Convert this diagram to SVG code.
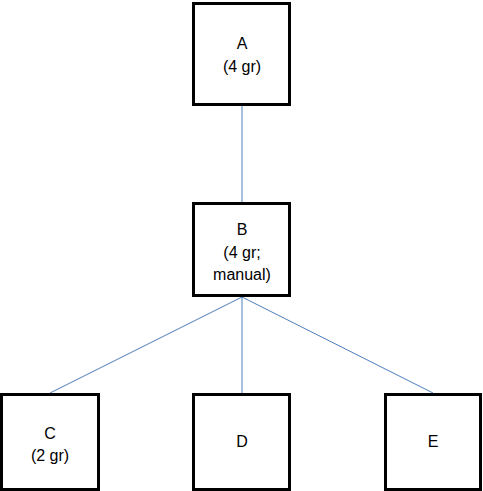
<svg xmlns="http://www.w3.org/2000/svg" width="483" height="491" viewBox="0 0 483 491">
<style>
.box{fill:#fff;stroke:#000;stroke-width:3}
.lbl{font-family:"Liberation Sans",Arial,sans-serif;font-size:16px;fill:#000;text-anchor:middle}
.conn{stroke:#4a7ebb;stroke-width:1;fill:none}
</style>
<rect width="483" height="491" fill="#fff"/>
<g id="connectors">
<line class="conn" x1="242" y1="106" x2="242" y2="202"/>
<line class="conn" x1="242" y1="297" x2="50" y2="393"/>
<line class="conn" x1="242" y1="297" x2="242" y2="393"/>
<line class="conn" x1="242" y1="297" x2="433" y2="393"/>
</g>
<g id="A">
<rect class="box" x="193.5" y="3.5" width="96" height="101"/>
<text class="lbl" x="242" y="49">A</text>
<text class="lbl" x="242" y="72">(4 gr)</text>
</g>
<g id="B">
<rect class="box" x="193.5" y="203.5" width="96" height="92"/>
<text class="lbl" x="242" y="235">B</text>
<text class="lbl" x="242" y="258">(4 gr;</text>
<text class="lbl" x="242" y="280">manual)</text>
</g>
<g id="C">
<rect class="box" x="1.5" y="394.5" width="97" height="95"/>
<text class="lbl" x="50" y="439">C</text>
<text class="lbl" x="50" y="461">(2 gr)</text>
</g>
<g id="D">
<rect class="box" x="193.5" y="394.5" width="96" height="95"/>
<text class="lbl" x="242" y="447">D</text>
</g>
<g id="E">
<rect class="box" x="385.5" y="394.5" width="95" height="95"/>
<text class="lbl" x="433" y="447">E</text>
</g>
</svg>
